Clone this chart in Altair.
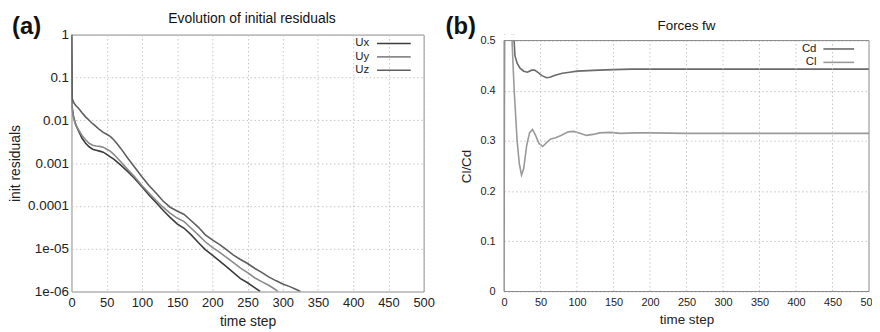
import altair as alt
import pandas as pd

# ---------------- (a) residuals ----------------
ux_step = [0, 1, 3, 6, 10, 15, 20, 25, 30, 35, 40, 45, 50, 55, 60, 70, 80, 90, 100, 110, 120, 130, 140,
           150, 160, 170, 180, 190, 200, 210, 220, 230, 240, 250, 260, 268]
ux_val = [1.0, 2.0e-2, 1.2e-2, 7.9e-3, 5.6e-3, 3.8e-3, 2.9e-3, 2.4e-3, 2.1e-3, 2.0e-3, 1.9e-3, 1.8e-3,
          1.6e-3, 1.4e-3, 1.23e-3, 8.9e-4, 6.3e-4, 4.3e-4, 2.8e-4, 1.8e-4, 1.2e-4, 7.9e-5, 5.4e-5,
          3.8e-5, 3.0e-5, 2.1e-5, 1.4e-5, 9.5e-6, 7.1e-6, 5.2e-6, 3.8e-6, 2.75e-6, 2.0e-6, 1.6e-6,
          1.23e-6, 1.0e-6]

uy_step = [0, 1, 3, 6, 10, 15, 20, 25, 30, 35, 40, 45, 50, 55, 60, 70, 80, 90, 100, 110, 120, 130, 140,
           150, 160, 170, 180, 190, 200, 210, 220, 230, 240, 250, 260, 270, 280, 290, 293]
uy_val = [1.0, 1.8e-2, 1.1e-2, 7.9e-3, 6.0e-3, 4.4e-3, 3.5e-3, 2.9e-3, 2.6e-3, 2.5e-3, 2.45e-3, 2.35e-3,
          2.1e-3, 1.9e-3, 1.6e-3, 1.07e-3, 7.1e-4, 4.7e-4, 3.0e-4, 2.0e-4, 1.35e-4, 9.3e-5, 6.8e-5,
          5.2e-5, 4.3e-5, 3.0e-5, 2.1e-5, 1.45e-5, 1.07e-5, 8.3e-6, 6.3e-6, 4.7e-6, 3.5e-6, 2.75e-6,
          2.1e-6, 1.7e-6, 1.4e-6, 1.1e-6, 1.0e-6]

uz_step = [0, 1, 3, 6, 10, 15, 20, 25, 30, 35, 40, 45, 50, 55, 60, 65, 70, 80, 90, 100, 110, 120, 130,
           140, 150, 160, 170, 180, 190, 200, 210, 220, 230, 240, 250, 260, 270, 280, 290, 300, 310,
           320, 325]
uz_val = [1.0, 3.2e-2, 2.6e-2, 2.2e-2, 1.9e-2, 1.5e-2, 1.2e-2, 1.0e-2, 8.3e-3, 7.1e-3, 6.0e-3, 5.2e-3,
          4.7e-3, 4.2e-3, 3.5e-3, 2.8e-3, 2.2e-3, 1.3e-3, 7.9e-4, 4.8e-4, 3.0e-4, 2.0e-4, 1.3e-4,
          9.3e-5, 7.6e-5, 6.3e-5, 4.5e-5, 3.2e-5, 2.1e-5, 1.6e-5, 1.26e-5, 9.5e-6, 7.1e-6, 5.6e-6,
          4.5e-6, 3.5e-6, 2.8e-6, 2.2e-6, 1.8e-6, 1.5e-6, 1.3e-6, 1.1e-6, 1.0e-6]

res_series = ["Ux", "Uy", "Uz"]
res_colors = ["#3c3c3c", "#8a8a8a", "#5e5e5e"]
res_yticks = [1, 0.1, 0.01, 0.001, 0.0001, 1e-05, 1e-06]
x_ticks = [0, 50, 100, 150, 200, 250, 300, 350, 400, 450, 500]

# ---------------- (b) forces ----------------
cd_step = [0, 1, 3, 6, 9, 12, 15, 18, 22, 27, 32, 38, 42, 46, 52, 58, 63, 70, 80, 90, 100, 115, 130,
           150, 175, 200, 250, 300, 400, 500]
cd_val = [0.13, 0.9, 0.8, 0.7, 0.65, 0.55, 0.47, 0.455, 0.445, 0.439, 0.437, 0.441, 0.441, 0.437, 0.430,
          0.426, 0.427, 0.431, 0.435, 0.437, 0.439, 0.440, 0.441, 0.442, 0.443, 0.443, 0.443, 0.443,
          0.443, 0.443]

cl_step = [0, 2, 5, 8, 11, 14, 18, 21, 24, 27, 31, 35, 39, 43, 48, 53, 58, 64, 70, 78, 88, 96, 105,
           113, 122, 131, 145, 160, 180, 200, 250, 300, 400, 500]
cl_val = [0.0, 1.2, 0.9, 0.7, 0.5, 0.4, 0.3, 0.255, 0.232, 0.245, 0.29, 0.316, 0.323, 0.312, 0.295,
          0.289, 0.296, 0.304, 0.306, 0.311, 0.318, 0.319, 0.315, 0.311, 0.313, 0.316, 0.317, 0.315,
          0.316, 0.316, 0.315, 0.315, 0.315, 0.315]

force_series = ["Cd", "Cl"]
force_colors = ["#6a6a6a", "#9a9a9a"]
force_yticks = [0, 0.1, 0.2, 0.3, 0.4, 0.5]
force_ymax = 0.5

FONT = "Liberation Sans"
GRID = "#c4c4c4"
FRAME = "#8a8a8a"
H = 259            # both panels share the same view height
RW = 368           # width of panel (b)
RIGHT_TOP_GAP = 6  # the (b) frame starts a little lower than (a)

res_df = pd.concat([
    pd.DataFrame({"step": ux_step, "value": ux_val, "series": "Ux"}),
    pd.DataFrame({"step": uy_step, "value": uy_val, "series": "Uy"}),
    pd.DataFrame({"step": uz_step, "value": uz_val, "series": "Uz"}),
])
force_df = pd.concat([
    pd.DataFrame({"step": cd_step, "value": cd_val, "series": "Cd"}),
    pd.DataFrame({"step": cl_step, "value": cl_val, "series": "Cl"}),
])
grid_df = pd.DataFrame({"step": x_ticks[1:-1]})
one = pd.DataFrame({"k": [0]})


def x_axis(label_size, title_size, grid=True):
    return alt.Axis(values=x_ticks, title="time step", grid=grid, gridDash=[1.5, 2.5],
                    gridColor=GRID, tickSize=0, domain=False, labelPadding=5,
                    labelFontSize=label_size, titleFontSize=title_size, titlePadding=5,
                    titleFontWeight="normal", labelColor="#222", titleColor="#222",
                    labelOverlap=False, labelFlush=False)


def legend_layers(names, colors, text_x, line_x1, line_x2, y0, dy):
    layers = []
    for i, (n, c) in enumerate(zip(names, colors)):
        d = pd.DataFrame({"label": [n]})
        y = y0 + i * dy
        layers.append(alt.Chart(d).mark_text(align="right", baseline="middle", fontSize=11.5,
                                             font=FONT, color="#222")
                      .encode(text="label:N", x=alt.value(text_x), y=alt.value(y)))
        layers.append(alt.Chart(d).mark_rule(color=c, strokeWidth=1.6)
                      .encode(x=alt.value(line_x1), x2=alt.value(line_x2), y=alt.value(y)))
    return layers


def text_mark(text, x, y, size, weight="normal", align="left", baseline="middle"):
    return alt.Chart(pd.DataFrame({"t": [text]})).mark_text(
        align=align, baseline=baseline, fontSize=size, fontWeight=weight, font=FONT, color="#111"
    ).encode(text="t:N", x=alt.value(x), y=alt.value(y))


# ---------------- left panel ----------------
res_lines = alt.Chart(res_df).mark_line(strokeWidth=1.6, clip=True).encode(
    x=alt.X("step:Q", scale=alt.Scale(domain=[0, 500], nice=False), axis=x_axis(13, 14)),
    y=alt.Y("value:Q", scale=alt.Scale(type="log", domain=[1e-6, 1], nice=False),
            axis=alt.Axis(values=res_yticks, title="init residuals", grid=True, gridDash=[1.5, 2.5],
                          gridColor=GRID, tickSize=0, domain=False, labelPadding=3,
                          labelFontSize=13.5, titleFontSize=14, titlePadding=5,
                          titleFontWeight="normal", labelColor="#222", titleColor="#222",
                          labelExpr="datum.value >= 0.0001 ? '' + datum.value : "
                                    "(datum.value > 0.000005 ? '1e-05' : '1e-06')")),
    color=alt.Color("series:N", scale=alt.Scale(domain=res_series, range=res_colors), legend=None),
)

left = alt.layer(
    res_lines,
    *legend_layers(res_series, res_colors, 300, 308, 342, 9, 13.5),
    text_mark("(a)", -60, -8, 24, "bold"),
    text_mark("Evolution of initial residuals", 182, -15.5, 14, align="center"),
).properties(width=355, height=H, view=alt.ViewBackground(stroke=FRAME, strokeWidth=1))

# ---------------- right panel ----------------
fx = alt.Scale(domain=[0, 500], nice=False)
fy = alt.Scale(domain=[0, 0.5], range=[H, RIGHT_TOP_GAP], nice=False)
fax = x_axis(11, 13.5, grid=False)

force_lines = alt.Chart(force_df).mark_line(strokeWidth=1.6, clip=True).encode(
    x=alt.X("step:Q", scale=fx, axis=fax),
    y=alt.Y("value:Q", scale=fy,
            axis=alt.Axis(values=force_yticks, title="Cl/Cd", grid=True, gridDash=[1.5, 2.5],
                          gridColor=GRID, tickSize=0, domain=False, labelPadding=9, format="~g",
                          labelFontSize=11, titleFontSize=13.5, titlePadding=6,
                          titleFontWeight="normal", labelColor="#222", titleColor="#222")),
    color=alt.Color("series:N", scale=alt.Scale(domain=force_series, range=force_colors), legend=None),
)

vgrid = alt.Chart(grid_df).mark_rule(color=GRID, strokeDash=[1.5, 2.5], strokeWidth=1).encode(
    x=alt.X("step:Q", scale=fx, axis=fax), y=alt.datum(0), y2=alt.datum(force_ymax))

mask = alt.Chart(one).mark_rect(color="white").encode(
    x=alt.value(-1), x2=alt.value(RW + 2), y=alt.value(0), y2=alt.value(RIGHT_TOP_GAP - 0.5))

frame_h = [alt.Chart(one).mark_rule(color=FRAME, strokeWidth=1).encode(
    x=alt.value(0), x2=alt.value(RW), y=alt.datum(v)) for v in (0, force_ymax)]
frame_v = [alt.Chart(one).mark_rule(color=FRAME, strokeWidth=1).encode(
    x=alt.value(px), y=alt.datum(0), y2=alt.datum(force_ymax)) for px in (0, RW)]

right = alt.layer(
    force_lines,
    vgrid,
    mask,
    *frame_h, *frame_v,
    *legend_layers(force_series, force_colors, 315, 322, 353, 14.5, 13.5),
    text_mark("(b)", -59, -8, 24, "bold"),
    text_mark("Forces fw", 184, -9, 13.5, align="center"),
).properties(width=RW, height=H, view=alt.ViewBackground(stroke=None))

# the last tick label of (b) runs past the page edge in the original; a negative right
# padding keeps the page from growing wider than the window and crops that label instead
chart = alt.hconcat(left, right, spacing=10).resolve_scale(color="independent").properties(
    padding={"left": 0, "top": 2.5, "right": -7, "bottom": 0}
).configure(font=FONT).configure_axis(labelFont=FONT, titleFont=FONT)

chart.save("out.html", embed_options={"renderer": "svg", "actions": False})
